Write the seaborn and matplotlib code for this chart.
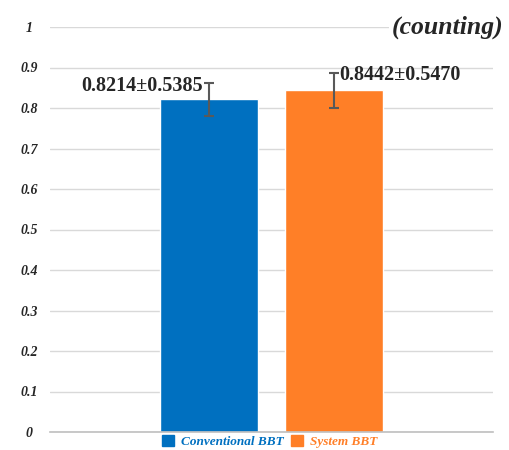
import matplotlib
matplotlib.use('Agg')
import matplotlib.pyplot as plt
import matplotlib.patches as mpatches
import seaborn as sns
import pandas as pd

categories = ['Conventional BBT', 'System BBT']
values = [0.8214, 0.8442]
errors = [0.040, 0.043]
labels = ['0.8214\u00b10.5385', '0.8442\u00b10.5470']
colors = ['#0070C0', '#FF7F27']
yticks = [0, 0.1, 0.2, 0.3, 0.4, 0.5, 0.6, 0.7, 0.8, 0.9, 1]
yticklabels = ['0', '0.1', '0.2', '0.3', '0.4', '0.5', '0.6', '0.7', '0.8', '0.9', '1']

sns.set_style('white')
plt.rcParams['font.family'] = ['Liberation Serif', 'DejaVu Serif']

df = pd.DataFrame({'group': categories, 'value': values})

fig = plt.figure(figsize=(5.09, 4.5), dpi=100)
ax = fig.add_axes([0.098, 0.04, 0.871, 0.9])

sns.barplot(data=df, x='group', y='value', hue='group', palette=colors,
            saturation=1, width=0.78, legend=False, ax=ax, zorder=2)
ax.errorbar(range(len(values)), values, yerr=errors, fmt='none',
            ecolor='#595959', elinewidth=1.5, capsize=3.5, capthick=1.5, zorder=3)

ax.set_xlim(-1.265, 2.265)
ax.set_ylim(0, 1)
ax.set_yticks(yticks)
ax.set_yticklabels(yticklabels, fontsize=10, fontweight='bold', fontstyle='italic')
ax.set_xticks([])
ax.set_xlabel('')
ax.set_ylabel('')
ax.tick_params(axis='y', length=0, pad=15)
for lab in ax.get_yticklabels():
    lab.set_horizontalalignment('center')
ax.yaxis.grid(True, color='#D9D9D9', linewidth=1, zorder=0)
ax.set_axisbelow(True)
for s in ['left', 'right', 'top']:
    ax.spines[s].set_visible(False)
ax.spines['bottom'].set_color('#BFBFBF')
ax.spines['bottom'].set_linewidth(1.2)

ax.text(0.0 - 0.05, values[0] + 0.008, labels[0], ha='right', va='bottom',
        fontsize=14.5, fontweight='bold', zorder=4)
ax.text(1.0 + 0.04, values[1] + 0.012, labels[1], ha='left', va='bottom',
        fontsize=14.5, fontweight='bold', zorder=4)

ax.text(0.772, 1.0, '(counting)', transform=ax.transAxes, ha='left', va='center',
        fontsize=18.5, fontweight='bold', fontstyle='italic',
        bbox=dict(facecolor='white', edgecolor='none', pad=2), zorder=5,
        clip_on=False)

handles = [mpatches.Patch(color=c, label=l) for c, l in zip(colors, categories)]
leg = fig.legend(handles=handles, loc='center', bbox_to_anchor=(0.53, 0.018),
                 ncol=2, frameon=False, handlelength=0.9, handleheight=0.9,
                 handletextpad=0.5, columnspacing=0.6,
                 prop={'size': 9.5, 'weight': 'bold', 'style': 'italic'})
for t, c in zip(leg.get_texts(), colors):
    t.set_color(c)

fig.savefig('out.png', dpi=100)
